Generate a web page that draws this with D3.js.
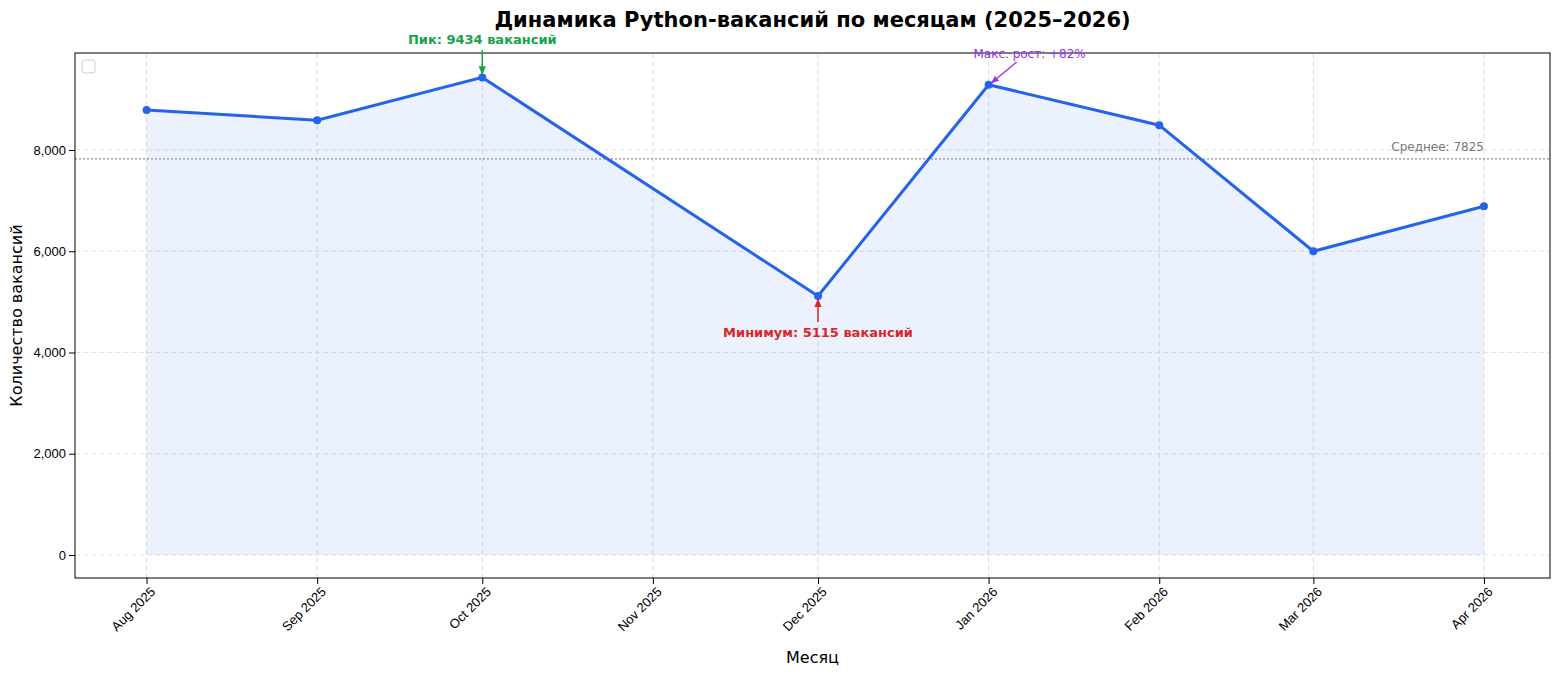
<!DOCTYPE html>
<html><head><meta charset="utf-8">
<script src="https://cdn.jsdelivr.net/npm/d3@7"></script>
<style>body{margin:0;background:#fff}svg{font-family:"DejaVu Sans",sans-serif}</style>
</head><body><svg id="c" width="1560" height="675"></svg>
<script>
"use strict";
const months = ["2025-08","2025-09","2025-10","2025-12","2026-01","2026-02","2026-03","2026-04"];
const values = [8790, 8590, 9434, 5115, 9290, 8490, 6000, 6890];
const tickMonths = ["2025-08","2025-09","2025-10","2025-11","2025-12","2026-01","2026-02","2026-03","2026-04"];
const yTicks = [0, 2000, 4000, 6000, 8000];

const parse = d3.timeParse("%Y-%m");
const fmt = d3.timeFormat("%b %Y");
const data = months.map((m, i) => ({ d: parse(m), v: values[i] }));
const mean = d3.mean(values);

const L = 75, R = 1550, T = 53, B = 578;
const svg = d3.select("#c");
const x = d3.scaleTime().domain([new Date(2025, 6, 19.9), new Date(2026, 3, 13.1)]).range([L, R]);
const y = d3.scaleLinear().domain([-454, 9916]).range([B, T]);

// grid
const g = svg.append("g");
tickMonths.forEach(m => g.append("line").attr("x1", x(parse(m))).attr("x2", x(parse(m)))
  .attr("y1", T).attr("y2", B).attr("stroke", "#ddd").attr("stroke-dasharray", "5,3"));
yTicks.forEach(t => g.append("line").attr("x1", L).attr("x2", R).attr("y1", y(t)).attr("y2", y(t))
  .attr("stroke", "#e3e3e3").attr("stroke-dasharray", "5,3"));

svg.append("path").datum(data)
  .attr("d", d3.area().x(d => x(d.d)).y0(y(0)).y1(d => y(d.v)))
  .attr("fill", "#2563eb").attr("fill-opacity", 0.09);

svg.append("line").attr("x1", L).attr("x2", R).attr("y1", y(mean)).attr("y2", y(mean))
  .attr("stroke", "#999").attr("stroke-width", 1.6).attr("stroke-dasharray", "2,2").attr("opacity", 0.8);
svg.append("text").attr("x", x(parse("2026-04"))).attr("y", y(mean) - 8).attr("text-anchor", "end")
  .attr("font-size", 12).attr("fill", "#777").text("Среднее: " + Math.round(mean));

svg.append("path").datum(data)
  .attr("d", d3.line().x(d => x(d.d)).y(d => y(d.v)))
  .attr("fill", "none").attr("stroke", "#2563eb").attr("stroke-width", 3);
svg.selectAll("circle.p").data(data).enter().append("circle")
  .attr("cx", d => x(d.d)).attr("cy", d => y(d.v)).attr("r", 4).attr("fill", "#2563eb");

// axes
svg.append("rect").attr("x", L).attr("y", T).attr("width", R - L).attr("height", B - T)
  .attr("fill", "none").attr("stroke", "#000");
const xa = svg.append("g").attr("transform", `translate(0,${B})`)
  .call(d3.axisBottom(x).tickValues(tickMonths.map(parse)).tickFormat(fmt).tickSizeOuter(0));
xa.select(".domain").remove();
xa.selectAll("text").attr("font-size", 13).attr("fill", "#000").attr("text-anchor", "end")
  .attr("dx", "-0.3em").attr("dy", "0.6em").attr("transform", "rotate(-45)");
const ya = svg.append("g").attr("transform", `translate(${L},0)`)
  .call(d3.axisLeft(y).tickValues(yTicks).tickSizeOuter(0));
ya.select(".domain").remove();
ya.selectAll("text").attr("font-size", 13).attr("fill", "#000");

svg.append("text").attr("x", (L + R) / 2).attr("y", 663).attr("text-anchor", "middle")
  .attr("font-size", 16).text("Месяц");
svg.append("text").attr("transform", `translate(22,${(T + B) / 2}) rotate(-90)`).attr("text-anchor", "middle")
  .attr("font-size", 16).text("Количество вакансий");
svg.append("text").attr("x", (L + R) / 2).attr("y", 27).attr("text-anchor", "middle")
  .attr("font-size", 21).attr("font-weight", "bold").text("Динамика Python-вакансий по месяцам (2025–2026)");

// empty legend box
svg.append("rect").attr("x", 82).attr("y", 60).attr("width", 13).attr("height", 13).attr("rx", 3)
  .attr("fill", "#fff").attr("stroke", "#ccc");

// annotations
const defs = svg.append("defs");
function marker(id, c) {
  defs.append("marker").attr("id", id).attr("viewBox", "0 0 10 10").attr("refX", 9).attr("refY", 5)
    .attr("markerWidth", 6).attr("markerHeight", 6).attr("orient", "auto")
    .append("path").attr("d", "M0,1L10,5L0,9z").attr("fill", c);
}
marker("mg", "#16a34a"); marker("mr", "#dc2626"); marker("mp", "#9333ea");
const pk = data[2], mn = data[3], jr = data[4];
svg.append("line").attr("x1", x(pk.d)).attr("x2", x(pk.d)).attr("y1", 50).attr("y2", y(pk.v) - 3)
  .attr("stroke", "#16a34a").attr("stroke-width", 1.5).attr("marker-end", "url(#mg)");
svg.append("text").attr("x", x(pk.d)).attr("y", 44).attr("text-anchor", "middle").attr("font-size", 13)
  .attr("font-weight", "bold").attr("fill", "#16a34a").text("Пик: " + pk.v + " вакансий");
svg.append("line").attr("x1", x(mn.d)).attr("x2", x(mn.d)).attr("y1", 322).attr("y2", y(mn.v) + 3)
  .attr("stroke", "#dc2626").attr("stroke-width", 1.5).attr("marker-end", "url(#mr)");
svg.append("text").attr("x", x(mn.d)).attr("y", 337).attr("text-anchor", "middle").attr("font-size", 13)
  .attr("font-weight", "bold").attr("fill", "#dc2626").text("Минимум: " + mn.v + " вакансий");
const growth = Math.round((jr.v - mn.v) / mn.v * 100);
svg.append("line").attr("x1", x(jr.d) + 28).attr("x2", x(jr.d) + 3).attr("y1", 62).attr("y2", y(jr.v) - 2)
  .attr("stroke", "#9333ea").attr("stroke-width", 1.3).attr("marker-end", "url(#mp)");
svg.append("text").attr("x", x(jr.d) + 41).attr("y", 58).attr("text-anchor", "middle").attr("font-size", 12)
  .attr("fill", "#9333ea").text("Макс. рост: +" + growth + "%");
</script></body></html>
